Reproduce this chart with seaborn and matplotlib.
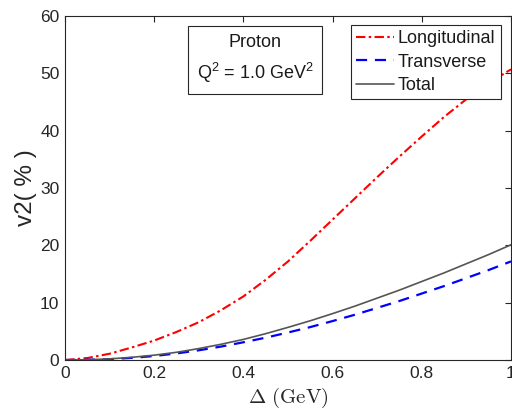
import numpy as np
import pandas as pd
import matplotlib
matplotlib.use("Agg")
import matplotlib.pyplot as plt
import seaborn as sns

# Momentum transfer grid (GeV) and the three v2 curves (%)
delta = [0.00, 0.05, 0.10, 0.15, 0.20, 0.25, 0.30, 0.35, 0.40, 0.45, 0.50,
         0.55, 0.60, 0.65, 0.70, 0.75, 0.80, 0.85, 0.90, 0.95, 1.00]
longitudinal = [0.0, 0.35, 1.1, 2.2, 3.4, 4.9, 6.6, 8.7, 11.1, 14.0, 17.2,
                20.8, 24.5, 28.2, 31.9, 35.5, 39.0, 42.4, 45.5, 48.3, 50.7]
transverse = [0.0, 0.04, 0.15, 0.38, 0.7, 1.15, 1.7, 2.35, 3.1, 3.9, 4.8,
              5.75, 6.8, 7.9, 9.1, 10.3, 11.6, 12.9, 14.3, 15.7, 17.2]
total = [0.0, 0.05, 0.2, 0.48, 0.85, 1.35, 2.0, 2.75, 3.6, 4.6, 5.7,
         6.85, 8.1, 9.4, 10.8, 12.2, 13.7, 15.2, 16.8, 18.4, 20.1]

series_names = ["Longitudinal", "Transverse", "Total"]
x_ticks = [0, 0.2, 0.4, 0.6, 0.8, 1]
x_tick_labels = ["0", "0.2", "0.4", "0.6", "0.8", "1"]
y_ticks = [0, 10, 20, 30, 40, 50, 60]

sns.set_theme(style="white")
plt.rcParams["font.family"] = ["Liberation Sans", "DejaVu Sans"]
plt.rcParams["mathtext.fontset"] = "custom"
plt.rcParams["mathtext.rm"] = "Liberation Sans"
plt.rcParams["mathtext.it"] = "Liberation Sans:italic"

fig = plt.figure(figsize=(5.12, 4.11), dpi=100)
ax = fig.add_axes([0.127, 0.124, 0.871, 0.837])

df = pd.DataFrame({"delta": delta, "Longitudinal": longitudinal,
                   "Transverse": transverse, "Total": total})

styles = {
    "Longitudinal": dict(color="#ff0000", lw=1.5, dashes=(4.5, 1.6, 1.2, 1.6)),
    "Transverse": dict(color="#0000ff", lw=1.6, dashes=(5, 3.5)),
    "Total": dict(color="#555555", lw=1.2, dashes=None),
}
for name in series_names:
    st = styles[name]
    line_ax = sns.lineplot(data=df, x="delta", y=name, ax=ax, color=st["color"],
                           linewidth=st["lw"], label=name)
    ln = line_ax.lines[-1]
    if st["dashes"] is not None:
        ln.set_dashes(st["dashes"])

ax.set_xlim(0, 1)
ax.set_ylim(0, 60)
ax.set_xticks(x_ticks)
ax.set_xticklabels(x_tick_labels)
ax.set_yticks(y_ticks)
ax.tick_params(direction="in", length=4, width=0.8, top=True, right=True,
               labelsize=12.5, colors="#262626", pad=4)
ax.tick_params(axis="both", colors="#262626", labelcolor="#262626")
for sp in ax.spines.values():
    sp.set_color("#262626")
    sp.set_linewidth(0.8)

ax.set_xlabel(r"$\Delta\ \mathrm{(GeV)}$", fontsize=15, labelpad=4,
              math_fontfamily="cm", color="#262626")
ax.set_ylabel("v2( % )", fontsize=17.5, color="#262626", labelpad=2)

ax.text(0.426, 0.875, "Proton\nQ$^2$ = 1.0 GeV$^2$", transform=ax.transAxes,
        ha="center", va="center", fontsize=13, linespacing=1.55,
        color="#1a1a1a",
        bbox=dict(boxstyle="square,pad=0.5", facecolor="white",
                  edgecolor="#262626", linewidth=0.8))

leg = ax.legend(loc="upper right", bbox_to_anchor=(0.977, 0.974), fontsize=13,
                frameon=True, fancybox=False, edgecolor="#262626",
                framealpha=1.0, handlelength=2.1, handletextpad=0.2,
                borderpad=0.3, labelspacing=0.35, borderaxespad=0.0)
leg.get_frame().set_linewidth(0.8)
for t in leg.get_texts():
    t.set_color("#1a1a1a")

fig.savefig("out.png", dpi=100, facecolor="white")
